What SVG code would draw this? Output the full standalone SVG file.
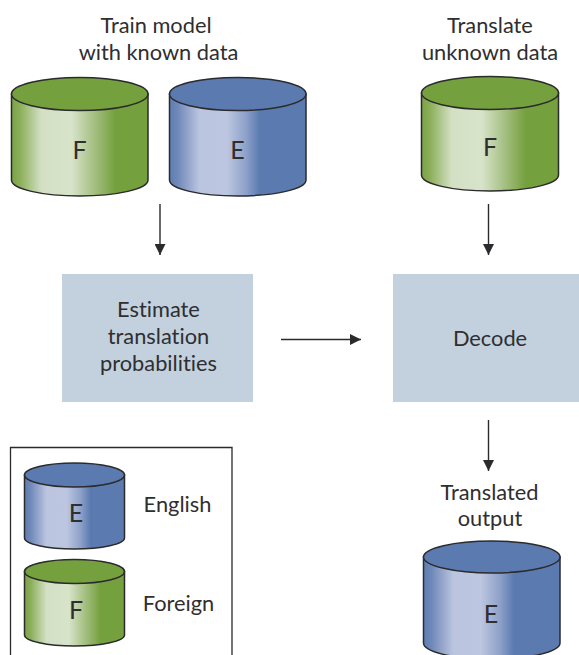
<svg xmlns="http://www.w3.org/2000/svg" width="579" height="655" viewBox="0 0 579 655">
<style>
text{font-family:"Lato","Liberation Sans",sans-serif;font-size:21.800px;fill:#2f2e30;text-anchor:middle;font-variant-ligatures:none}
text.l{font-size:25px}
.s{stroke:#2b2a2c;stroke-width:1.5}
.box{fill:#c2d1dd}
.g{fill:url(#gg)}.gt{fill:#75a03e}
.b{fill:url(#bg)}.bt{fill:#5b7bb0}
.c{stroke:#2b2a2c;stroke-width:1.4;fill:none;marker-end:url(#ah)}
</style>
<defs>
<linearGradient id="gg"><stop offset="0" stop-color="#7ba345"/><stop offset=".06" stop-color="#8aae58"/><stop offset=".22" stop-color="#d3e0c4"/><stop offset=".44" stop-color="#d8e4ca"/><stop offset=".56" stop-color="#b3c996"/><stop offset=".76" stop-color="#75a03e"/><stop offset="1" stop-color="#75a03e"/></linearGradient>
<linearGradient id="bg"><stop offset="0" stop-color="#5e7eb2"/><stop offset=".06" stop-color="#7088b9"/><stop offset=".22" stop-color="#bbc5df"/><stop offset=".42" stop-color="#bcc6e0"/><stop offset=".56" stop-color="#8ea1c9"/><stop offset=".66" stop-color="#5b7bb0"/><stop offset="1" stop-color="#5b7bb0"/></linearGradient>
<marker id="ah" markerUnits="userSpaceOnUse" markerWidth="12" markerHeight="11" refX="11" refY="5.500" orient="auto"><path d="M0 0L11 5.500L0 11z" fill="#2b2a2c"/></marker>
</defs>
<g id="title-train"><text x="156" y="33">Train model</text><text x="158.500" y="60">with known data</text></g>
<g id="title-translate"><text x="490" y="33">Translate</text><text x="490" y="60">unknown data</text></g>
<g id="f-train">
<path class="g s" d="M11.500 94V180C11.500 189 42 196 79.500 196S148 189 148 180V94z"/>
<ellipse class="gt s" cx="79.750" cy="94" rx="68.250" ry="16.500"/><text class="l" x="79.500" y="159">F</text></g>
<g id="e-train">
<path class="b s" d="M169.500 94V180C169.500 189 200 196 237.500 196S306 189 306 180V94z"/>
<ellipse class="bt s" cx="237.750" cy="94" rx="68.250" ry="16.500"/><text class="l" x="237.500" y="159">E</text></g>
<g id="f-translate">
<path class="g s" d="M421.500 93V175C421.500 184 452 191 490 191S558.500 184 558.500 175V93z"/>
<ellipse class="gt s" cx="490" cy="93" rx="68.500" ry="16.500"/><text class="l" x="490" y="156">F</text></g>
<g id="estimate"><rect class="box" x="62" y="274" width="191" height="128"/><text x="158.500" y="317">Estimate</text><text x="158.500" y="344">translation</text><text x="158.500" y="371">probabilities</text></g>
<g id="decode"><rect class="box" x="393" y="274" width="191" height="128"/><text x="490" y="346">Decode</text></g>
<g id="title-output"><text x="489.500" y="500">Translated</text><text x="490" y="526">output</text></g>
<g id="e-output">
<path class="b s" d="M423.500 557V643C423.500 652 454 659 491.500 659S560 652 560 643V557z"/>
<ellipse class="bt s" cx="491.750" cy="557" rx="68.250" ry="16"/><text class="l" x="491" y="623">E</text></g>
<g id="legend"><path d="M10.500 655V447.500H232V655" fill="none" stroke="#2b2a2c" stroke-width="1.300"/>
<g id="legend-e"><path class="b s" d="M24.500 475V538C24.500 544 47 549 74.500 549S124.500 544 124.500 538V475z"/>
<ellipse class="bt s" cx="74.500" cy="475" rx="50" ry="12"/><text class="l" x="76" y="522">E</text><text x="177.500" y="512">English</text></g>
<g id="legend-f"><path class="g s" d="M24.500 571.500V635C24.500 641 47 646 74.500 646S124.500 641 124.500 635V571.500z"/>
<ellipse class="gt s" cx="74.500" cy="571.500" rx="50" ry="12"/><text class="l" x="76" y="619">F</text><text x="178.500" y="611">Foreign</text></g></g>
<g id="connectors">
<path class="c" d="M160 204V255"/>
<path class="c" d="M488.500 204V255"/>
<path class="c" d="M281 339.500H361"/>
<path class="c" d="M488.500 420V471"/>
</g>
</svg>
